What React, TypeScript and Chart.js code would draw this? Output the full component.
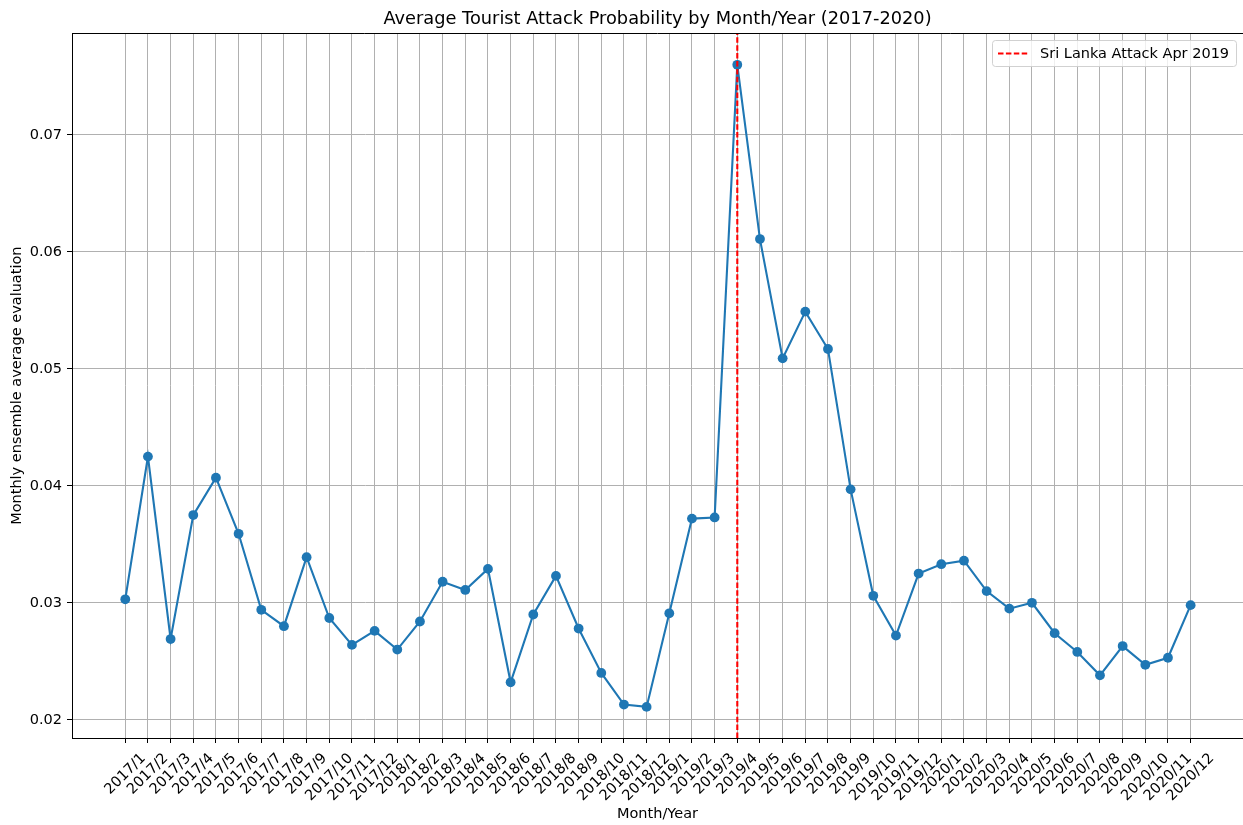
import React, { useEffect, useRef } from 'react';
import { Chart, registerables } from 'chart.js';

Chart.register(...registerables);

const monthLabels = [
  '2017/1', '2017/2', '2017/3', '2017/4', '2017/5', '2017/6', '2017/7', '2017/8', '2017/9', '2017/10', '2017/11', '2017/12',
  '2018/1', '2018/2', '2018/3', '2018/4', '2018/5', '2018/6', '2018/7', '2018/8', '2018/9', '2018/10', '2018/11', '2018/12',
  '2019/1', '2019/2', '2019/3', '2019/4', '2019/5', '2019/6', '2019/7', '2019/8', '2019/9', '2019/10', '2019/11', '2019/12',
  '2020/1', '2020/2', '2020/3', '2020/4', '2020/5', '2020/6', '2020/7', '2020/8', '2020/9', '2020/10', '2020/11', '2020/12',
];

const avgEvaluation = [
  0.0303, 0.0425, 0.0269, 0.0375, 0.0407, 0.0359, 0.0294, 0.0280, 0.0339, 0.0287, 0.0264, 0.0276,
  0.0260, 0.0284, 0.0318, 0.0311, 0.0329, 0.0232, 0.0290, 0.0323, 0.0278, 0.0240, 0.0213, 0.0211,
  0.0291, 0.0372, 0.0373, 0.0760, 0.0611, 0.0509, 0.0549, 0.0517, 0.0397, 0.0306, 0.0272, 0.0325,
  0.0333, 0.0336, 0.0310, 0.0295, 0.0300, 0.0274, 0.0258, 0.0238, 0.0263, 0.0247, 0.0253, 0.0298,
];

const yTickValues = [0.02, 0.03, 0.04, 0.05, 0.06, 0.07];
const attackIndex = 27;
const attackLabel = 'Sri Lanka Attack Apr 2019';
const chartTitle = 'Average Tourist Attack Probability by Month/Year (2017-2020)';
const xAxisTitle = 'Month/Year';
const yAxisTitle = 'Monthly ensemble average evaluation';

const Y_MIN = 0.01844;
const Y_MAX = 0.07869;
const X_MIN = -2.35;
const X_MAX = 49.31;

const FONT = '"DejaVu Sans", "Liberation Sans", sans-serif';
const BLUE = '#1f77b4';

const decorPlugin = {
  id: 'decor',
  afterDraw(chart: any) {
    const { ctx, chartArea, scales } = chart;
    ctx.save();
    // top spine
    ctx.strokeStyle = '#000';
    ctx.lineWidth = 1;
    ctx.beginPath();
    ctx.moveTo(chartArea.left, Math.round(chartArea.top) + 0.5);
    ctx.lineTo(chartArea.right, Math.round(chartArea.top) + 0.5);
    ctx.stroke();

    // rotated x tick labels (centered under the tick, like matplotlib)
    ctx.font = `14.5px ${FONT}`;
    ctx.fillStyle = '#000';
    ctx.textAlign = 'center';
    ctx.textBaseline = 'middle';
    scales.x.ticks.forEach((t: any) => {
      const i = t.value;
      const label = monthLabels[i];
      if (label === undefined) return;
      const x = scales.x.getPixelForValue(i);
      const w = ctx.measureText(label).width;
      const cy = chartArea.bottom + 18 + w * 0.3535;
      ctx.save();
      ctx.translate(x, cy);
      ctx.rotate(-Math.PI / 4);
      ctx.fillText(label, 0, 0);
      ctx.restore();
    });

    // legend box (upper right)
    const bx = 992.5, by = 40.5, bw = 244, bh = 26;
    ctx.beginPath();
    if ((ctx as any).roundRect) {
      (ctx as any).roundRect(bx, by, bw, bh, 3);
    } else {
      ctx.rect(bx, by, bw, bh);
    }
    ctx.fillStyle = 'rgba(255,255,255,0.8)';
    ctx.fill();
    ctx.strokeStyle = 'rgba(204,204,204,0.9)';
    ctx.lineWidth = 1;
    ctx.stroke();

    ctx.strokeStyle = '#ff0000';
    ctx.lineWidth = 2.1;
    ctx.setLineDash([5.5, 2.4]);
    ctx.beginPath();
    ctx.moveTo(998, 53.5);
    ctx.lineTo(1028.5, 53.5);
    ctx.stroke();
    ctx.setLineDash([]);

    ctx.fillStyle = '#000';
    ctx.textAlign = 'left';
    ctx.textBaseline = 'middle';
    ctx.font = `14.5px ${FONT}`;
    ctx.fillText(attackLabel, 1040, 54);
    ctx.restore();
  },
};

export default function App() {
  const canvasRef = useRef<HTMLCanvasElement | null>(null);

  useEffect(() => {
    document.body.style.margin = '0';
    const canvas = canvasRef.current;
    if (!canvas) return;
    Chart.defaults.font.family = FONT;

    const chart = new Chart(canvas, {
      type: 'line',
      data: {
        datasets: [
          {
            label: 'Average evaluation',
            data: avgEvaluation.map((v, i) => ({ x: i, y: v })),
            borderColor: BLUE,
            backgroundColor: BLUE,
            borderWidth: 2.1,
            pointRadius: 4.9,
            pointHoverRadius: 4.9,
            pointBackgroundColor: BLUE,
            pointBorderWidth: 0,
            tension: 0,
            order: 1,
          },
          {
            label: attackLabel,
            data: [
              { x: attackIndex, y: Y_MIN },
              { x: attackIndex, y: Y_MAX },
            ],
            borderColor: '#ff0000',
            backgroundColor: '#ff0000',
            borderWidth: 2.1,
            borderDash: [5.5, 2.4],
            pointRadius: 0,
            order: 0,
          },
        ],
      },
      options: {
        animation: false,
        responsive: false,
        devicePixelRatio: 1,
        events: [],
        layout: { padding: 0, autoPadding: false },
        plugins: {
          legend: { display: false },
          tooltip: { enabled: false },
          title: {
            display: true,
            fullSize: false,
            text: chartTitle,
            color: '#000',
            font: { size: 17.8, weight: 'normal', family: FONT },
            padding: { top: 9, bottom: 3 },
          },
        },
        scales: {
          x: {
            type: 'linear',
            min: X_MIN,
            max: X_MAX,
            afterBuildTicks: (s: any) => {
              s.ticks = monthLabels.map((_, i) => ({ value: i }));
            },
            afterFit: (s: any) => {
              s.height = 87;
              s.paddingLeft = 0;
              s.paddingRight = 0;
            },
            ticks: { display: false },
            grid: {
              color: '#b0b0b0',
              lineWidth: 1,
              drawTicks: true,
              tickLength: 5,
              tickColor: '#000',
              tickWidth: 1,
            },
            border: { display: true, color: '#000', width: 1 },
            title: {
              display: true,
              text: xAxisTitle,
              color: '#000',
              font: { size: 14.5, family: FONT },
              padding: { top: 0, bottom: 2.3 },
            },
          },
          y: {
            type: 'linear',
            min: Y_MIN,
            max: Y_MAX,
            afterBuildTicks: (s: any) => {
              s.ticks = yTickValues.map((v) => ({ value: v }));
            },
            afterFit: (s: any) => {
              s.width = 72;
              s.paddingTop = 0;
              s.paddingBottom = 0;
            },
            ticks: {
              color: '#000',
              font: { size: 14.5, family: FONT },
              padding: 5,
              callback: (v: any) => Number(v).toFixed(2),
            },
            grid: {
              color: '#b0b0b0',
              lineWidth: 1,
              drawTicks: true,
              tickLength: 5,
              tickColor: '#000',
              tickWidth: 1,
            },
            border: { display: true, color: '#000', width: 1 },
            title: {
              display: true,
              text: yAxisTitle,
              color: '#000',
              font: { size: 14.5, family: FONT },
              padding: { top: 9, bottom: 0 },
            },
          },
        },
      },
      plugins: [decorPlugin],
    } as any);

    return () => {
      chart.destroy();
    };
  }, []);

  return (
    <div style={{ width: 1243, height: 825, position: 'relative' }}>
      <canvas ref={canvasRef} width={1243} height={825} style={{ display: 'block', width: 1243, height: 825 }} />
    </div>
  );
}
